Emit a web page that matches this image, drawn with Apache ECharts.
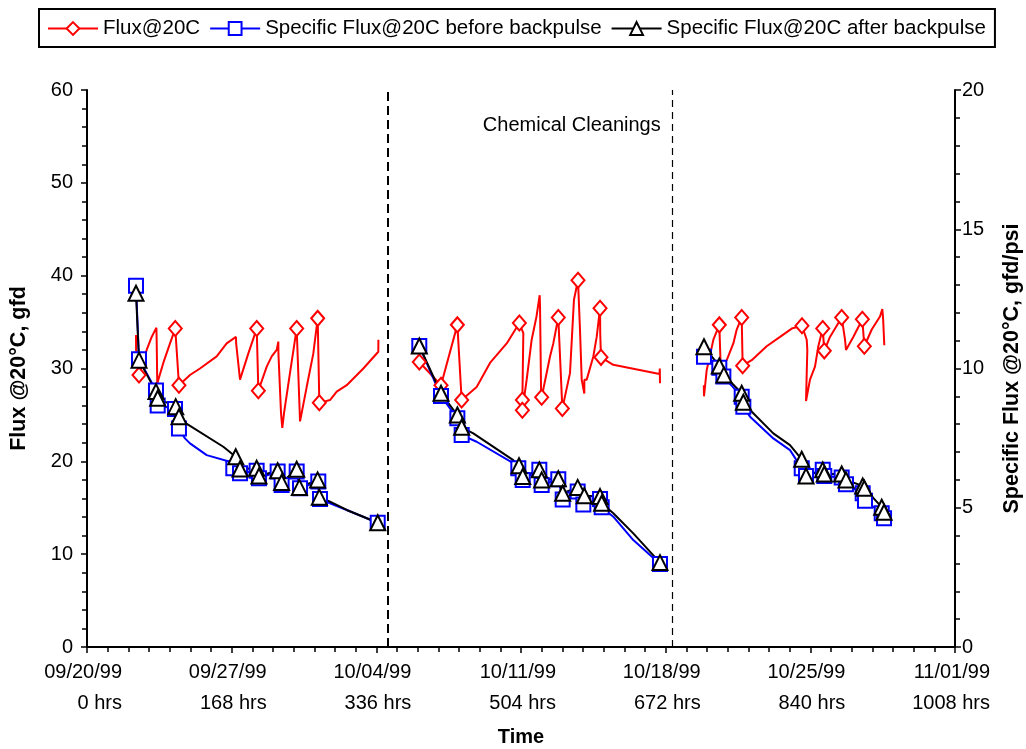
<!DOCTYPE html>
<html>
<head>
<meta charset="utf-8">
<script src="https://cdn.jsdelivr.net/npm/echarts@6/dist/echarts.min.js"></script>
<style>
html,body{margin:0;padding:0;background:#fff;}
#chart{width:1026px;height:749px;}
</style>
</head>
<body>
<div id="chart"></div>
<script>
// ---- data: [hours, value, sampled(1) or trace(0)] ----
const dateLabels = ['09/20/99','09/27/99','10/04/99','10/11/99','10/18/99','10/25/99','11/01/99'];
const hourTicks = [0,168,336,504,672,840,1008];
const cleaningHours = [349.6, 679.4];
const cleaningText = 'Chemical Cleanings';

const fluxSeg1 = [[56.9,33.6,0],[57.0,32.0,0],[60.4,29.3,1],[69.3,32.0,0],[75.1,33.4,0],[80.6,34.4,0],[80.9,33.1,0],[81.6,28.4,0],[88.6,30.6,0],[96.4,32.7,0],[102.5,34.3,1],[106.8,28.2,1],[119.6,29.3,0],[131.2,30.0,0],[150.6,31.3,0],[162.2,32.7,0],[173.0,33.4,0],[173.2,32.7,0],[177.7,28.8,0],[187.3,31.6,0],[197.1,34.3,1],[199.0,27.6,1],[208.7,30.2,0],[214.5,31.3,0],[220.3,32.0,0],[222.2,32.9,0],[222.3,31.6,0],[225.3,25.2,0],[226.8,23.6,0],[228.8,25.2,0],[235.7,29.5,0],[243.5,34.3,1],[247.4,24.3,0],[255.1,28.0,0],[262.8,31.6,0],[267.9,35.4,1],[269.8,26.3,1],[282.2,26.6,0],[290.0,27.5,0],[301.6,28.2,0],[320.9,30.0,0],[338.3,31.8,0],[338.4,33.1,0]];
const fluxSeg2 = [[385.9,30.7,1],[411.1,28.2,1],[430.1,34.7,1],[435.1,26.6,1],[452.5,28.0,0],[468.0,30.6,0],[487.4,32.7,0],[502.1,34.9,1],[506.7,33.8,0],[505.6,26.6,1],[505.6,25.5,1],[510.6,28.8,0],[516.4,33.1,0],[522.0,35.6,0],[525.7,37.9,0],[526.1,36.7,0],[527.3,27.7,0],[528.0,26.9,1],[537.7,31.3,0],[541.5,32.7,0],[547.3,35.5,1],[552.0,25.7,1],[560.9,29.5,0],[565.5,37.4,0],[570.2,39.5,1],[572.5,34.2,0],[574.5,28.8,0],[577.5,27.3,0],[577.6,28.8,0],[580.3,28.8,0],[588.0,31.3,0],[591.9,33.4,0],[595.8,36.5,1],[596.0,33.8,0],[596.9,31.2,1],[611.2,30.4,0],[664.9,29.4,0],[665.2,30.0,0],[665.4,28.4,0]];
const fluxSeg3 = [[716.3,28.2,0],[716.5,27.0,0],[719.6,29.8,0],[727.4,33.1,0],[734.3,34.7,1],[735.9,30.2,0],[742.9,30.9,0],[750.6,32.7,0],[754.5,34.2,0],[760.3,35.5,1],[761.4,30.3,1],[771.9,30.9,0],[789.3,32.4,0],[804.8,33.4,0],[818.4,34.3,0],[830.3,34.6,1],[835.8,33.1,0],[836.5,32.0,0],[835.0,26.5,0],[839.6,28.8,0],[845.4,30.2,0],[849.3,32.4,0],[854.4,34.3,1],[856.2,31.9,1],[862.8,33.4,0],[876.4,35.5,1],[880.3,33.1,0],[881.4,32.0,0],[889.9,33.4,0],[900.4,35.3,1],[902.7,32.4,1],[911.3,34.2,0],[920.9,35.6,0],[923.6,36.4,0],[924.5,35.4,0],[925.9,32.5,0]];

const beforeSeg1 = [[56.9,12.97,1],[60.4,10.33,1],[80.1,9.21,1],[82.1,8.67,1],[102.2,8.55,1],[106.8,7.85,1],[113.8,7.49,0],[119.6,7.31,0],[139.0,6.89,0],[166.0,6.65,0],[169.9,6.42,1],[177.7,6.24,1],[197.0,6.33,1],[199.7,6.06,1],[221.4,6.30,1],[226.0,5.82,1],[243.5,6.30,1],[247.4,5.70,1],[268.6,5.94,1],[270.6,5.31,1],[282.2,5.16,0],[301.6,4.92,0],[337.6,4.46,1]];
const beforeSeg2 = [[385.9,10.81,1],[411.1,9.01,1],[430.1,8.21,1],[435.1,7.61,1],[452.5,7.37,0],[495.0,6.60,0],[500.9,6.42,1],[506.0,6.00,1],[525.3,6.36,1],[528.0,5.82,1],[547.3,6.02,1],[552.4,5.30,1],[569.8,5.58,1],[576.4,5.12,1],[595.8,5.31,1],[597.7,5.02,1],[611.2,4.68,0],[634.4,3.84,0],[653.8,3.30,0],[665.4,2.98,1]];
const beforeSeg3 = [[716.5,10.42,1],[734.3,10.03,1],[739.0,9.71,1],[760.3,8.99,1],[762.2,8.63,1],[770.0,8.27,0],[797.0,7.49,0],[816.4,7.07,0],[830.0,6.42,1],[835.0,6.14,1],[854.4,6.36,1],[856.2,6.14,1],[876.4,6.09,1],[881.4,5.84,1],[900.8,5.52,1],[903.5,5.25,1],[922.9,4.80,1],[925.6,4.62,1]];

const afterSeg1 = [[56.9,12.70,1],[60.4,10.30,1],[80.1,9.17,1],[82.1,8.93,1],[103.0,8.63,1],[106.8,8.27,1],[111.8,8.09,0],[158.3,7.19,0],[172.7,6.83,1],[177.7,6.39,1],[197.0,6.42,1],[199.7,6.14,1],[221.4,6.33,1],[226.0,5.91,1],[243.5,6.38,1],[246.6,5.73,1],[267.8,6.00,1],[269.8,5.38,1],[282.2,5.22,0],[301.6,4.92,0],[337.6,4.46,1]];
const afterSeg2 = [[385.9,10.81,1],[411.1,9.11,1],[430.1,8.33,1],[435.1,7.89,1],[448.6,7.67,0],[495.0,6.71,0],[501.7,6.51,1],[506.0,6.12,1],[525.3,6.36,1],[528.0,6.00,1],[547.3,6.04,1],[552.4,5.52,1],[569.8,5.73,1],[577.5,5.43,1],[595.8,5.40,1],[597.7,5.16,1],[611.2,4.80,0],[634.4,4.08,0],[665.4,3.03,1]];
const afterSeg3 = [[716.5,10.78,1],[734.3,10.09,1],[739.6,9.77,1],[760.3,9.11,1],[762.2,8.79,1],[770.0,8.51,0],[797.0,7.67,0],[816.4,7.25,0],[830.0,6.74,1],[835.0,6.14,1],[854.4,6.36,1],[856.2,6.21,1],[876.4,6.21,1],[881.4,6.00,1],[900.8,5.78,1],[902.7,5.70,1],[922.9,5.02,1],[925.6,4.84,1]];

const names = ['Flux@20C','Specific Flux@20C before backpulse','Specific Flux@20C after backpulse'];

function build(segs){
  const out = [];
  segs.forEach((seg, i) => {
    if (i > 0) {
      const prev = segs[i-1];
      out.push([(prev[prev.length-1][0] + seg[0][0]) / 2, '-']);
    }
    seg.forEach(p => {
      out.push(p[2] ? {value:[p[0], p[1]]} : {value:[p[0], p[1]], symbol:'none'});
    });
  });
  return out;
}

const FONT = 'Liberation Sans, Arial, Helvetica, sans-serif';
const chart = echarts.init(document.getElementById('chart'), null, {renderer:'canvas'});

const option = {
  backgroundColor:'#fff',
  animation:false,
  textStyle:{fontFamily:FONT, color:'#000'},
  legend:{
    data:names,
    top:9, left:39,
    borderColor:'#000', borderWidth:2,
    padding:[9,9,8,8],
    itemWidth:50, itemHeight:16, itemGap:9,
    textStyle:{fontFamily:FONT, fontSize:20.5, color:'#000'}
  },
  grid:{left:87, right:71, top:90, bottom:102, outerBoundsMode:'none', containLabel:false},
  xAxis:{
    type:'value', min:0, max:1008, interval:168,
    name:'Time', nameLocation:'middle', nameGap:80,
    nameTextStyle:{fontFamily:FONT, fontSize:20, fontWeight:'bold', color:'#000'},
    axisLine:{lineStyle:{color:'#000', width:2}},
    axisTick:{length:6, lineStyle:{color:'#000', width:1.5}},
    minorTick:{show:true, splitNumber:7, length:5, lineStyle:{color:'#000', width:1.5}},
    splitLine:{show:false},
    axisLabel:{
      margin:10, color:'#000',
      formatter:function(v){
        const i = hourTicks.indexOf(v);
        return '{a|' + dateLabels[i] + '}\n{a|' + v + ' hrs}';
      },
      rich:{a:{fontFamily:FONT, fontSize:20, color:'#000', width:80, padding:[0,10,0,0], align:'right', lineHeight:31}}
    }
  },
  yAxis:[{
    type:'value', min:0, max:60, interval:10, position:'left',
    name:'Flux @20°C, gfd', nameLocation:'middle', nameGap:57,
    nameTextStyle:{fontFamily:FONT, fontSize:21.5, fontWeight:'bold', color:'#000'},
    axisLine:{show:true, lineStyle:{color:'#000', width:2}},
    axisTick:{show:true, length:6, lineStyle:{color:'#000', width:1.5}},
    minorTick:{show:true, splitNumber:5, length:5, lineStyle:{color:'#000', width:1.5}},
    splitLine:{show:false},
    axisLabel:{margin:14, fontFamily:FONT, fontSize:20, color:'#000'}
  },{
    type:'value', min:0, max:20, interval:5, position:'right',
    name:'Specific Flux @20°C, gfd/psi', nameLocation:'middle', nameGap:46,
    nameTextStyle:{fontFamily:FONT, fontSize:21.5, fontWeight:'bold', color:'#000'},
    axisLine:{show:true, lineStyle:{color:'#000', width:2}},
    axisTick:{show:true, length:6, lineStyle:{color:'#000', width:1.5}},
    minorTick:{show:true, splitNumber:5, length:5, lineStyle:{color:'#000', width:1.5}},
    splitLine:{show:false},
    axisLabel:{margin:7, fontFamily:FONT, fontSize:20, color:'#000'}
  }],
  series:[{
    name:names[0], type:'line', yAxisIndex:0,
    data:build([fluxSeg1, fluxSeg2, fluxSeg3]),
    symbol:'diamond', symbolSize:[13,15], showAllSymbol:true,
    lineStyle:{color:'#ff0000', width:2},
    itemStyle:{color:'#fff', borderColor:'#ff0000', borderWidth:2},
    markLine:{
      silent:true, symbol:'none', label:{show:false},
      lineStyle:{color:'#000', type:'dashed'},
      data:[{xAxis:cleaningHours[0], lineStyle:{width:2, type:[9,5]}},{xAxis:cleaningHours[1], lineStyle:{width:1.2, type:[7,5]}}]
    },
    markPoint:{
      silent:true, symbol:'rect', symbolSize:1, itemStyle:{color:'rgba(0,0,0,0)'},
      label:{show:true, position:'inside', formatter:cleaningText, fontFamily:FONT, fontSize:20, color:'#000'},
      data:[{coord:[563, 56.2]}]
    }
  },{
    name:names[1], type:'line', yAxisIndex:1,
    data:build([beforeSeg1, beforeSeg2, beforeSeg3]),
    symbol:'rect', symbolSize:14, showAllSymbol:true,
    lineStyle:{color:'#0000ff', width:2},
    itemStyle:{color:'#fff', borderColor:'#0000ff', borderWidth:2}
  },{
    name:names[2], type:'line', yAxisIndex:1,
    data:build([afterSeg1, afterSeg2, afterSeg3]),
    symbol:'triangle', symbolSize:15, showAllSymbol:true,
    lineStyle:{color:'#000', width:2},
    itemStyle:{color:'#fff', borderColor:'#000', borderWidth:2}
  }]
};
chart.setOption(option);
</script>
</body>
</html>
